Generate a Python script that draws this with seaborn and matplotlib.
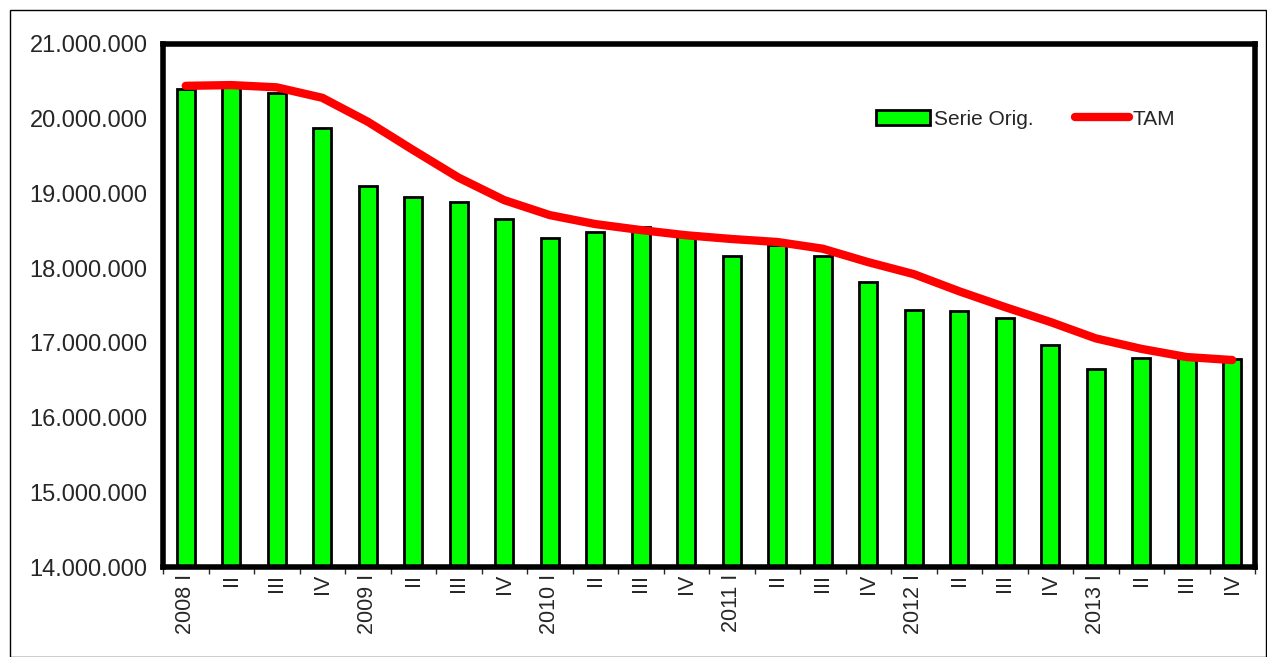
import matplotlib
matplotlib.use('Agg')
import matplotlib.pyplot as plt
import seaborn as sns
import numpy as np
import pandas as pd
from matplotlib.ticker import FuncFormatter, FixedLocator

# trimestres 2008 I .. 2013 IV
trimestres = ['2008 I', 'II', 'III', 'IV', '2009 I', 'II', 'III', 'IV',
              '2010 I', 'II', 'III', 'IV', '2011 I', 'II', 'III', 'IV',
              '2012 I', 'II', 'III', 'IV', '2013 I', 'II', 'III', 'IV']

serie_orig = [20400000, 20420000, 20340000, 19870000, 19100000, 18950000,
              18880000, 18660000, 18400000, 18480000, 18550000, 18430000,
              18160000, 18310000, 18160000, 17810000, 17440000, 17430000,
              17330000, 16970000, 16650000, 16800000, 16800000, 16780000]

tam = [20440000, 20450000, 20420000, 20280000, 19960000, 19580000,
       19210000, 18910000, 18710000, 18590000, 18510000, 18440000,
       18390000, 18350000, 18260000, 18080000, 17920000, 17690000,
       17480000, 17280000, 17060000, 16920000, 16810000, 16770000]

datos = pd.DataFrame({'pos': np.arange(len(trimestres)),
                      'Serie Orig.': serie_orig, 'TAM': tam})

sns.set_style('white')
plt.rcParams['font.family'] = ['Liberation Sans', 'DejaVu Sans']

fig = plt.figure(figsize=(12.67, 6.57), dpi=100)
ax = fig.add_axes([163/1267, 1 - 567/657, (1255-163)/1267, (567-44)/657])

# borde exterior de la figura
fig.patches.append(plt.Rectangle((10/1267, 0), 1 - 10/1267 - 0.0005, 1 - 10/657,
                                 transform=fig.transFigure, fill=False,
                                 edgecolor='black', linewidth=1))

sns.barplot(data=datos, x='pos', y='Serie Orig.', color='#00ff00', saturation=1,
            width=0.4, edgecolor='black', linewidth=2, ax=ax,
            native_scale=True, label='Serie Orig.')
sns.lineplot(data=datos, x='pos', y='TAM', color='#ff0000', linewidth=6,
             solid_capstyle='round', solid_joinstyle='round', ax=ax, label='TAM')

ax.set_xlim(-0.5, len(trimestres) - 0.5)
ax.set_ylim(14000000, 21000000)
ax.set_yticks(np.arange(14000000, 21000001, 1000000))
ax.yaxis.set_major_formatter(FuncFormatter(lambda v, p: f'{int(v):,}'.replace(',', '.')))
ax.tick_params(axis='y', length=0, labelsize=17, pad=11)

ax.set_xticks(np.arange(len(trimestres)))
ax.set_xticklabels(trimestres, rotation=90, fontsize=15.5, va='top')
ax.tick_params(axis='x', which='major', length=0, pad=5)
ax.xaxis.set_minor_locator(FixedLocator(np.arange(-0.5, len(trimestres), 1)))
ax.tick_params(axis='x', which='minor', length=5, width=1, direction='out', bottom=True)

ax.set_xlabel('')
ax.set_ylabel('')
for s in ax.spines.values():
    s.set_visible(True)
    s.set_linewidth(4)
    s.set_color('black')

h, l = ax.get_legend_handles_labels()
orden = [l.index('Serie Orig.'), l.index('TAM')]
ax.legend([h[i] for i in orden], [l[i] for i in orden],
          loc='upper left', bbox_to_anchor=(0.6455, 0.89), ncol=2, frameon=False,
          fontsize=15, handlelength=2.6, handleheight=0.75, handletextpad=0.15,
          columnspacing=2.0, borderaxespad=0)

fig.savefig('out.png', dpi=100)
